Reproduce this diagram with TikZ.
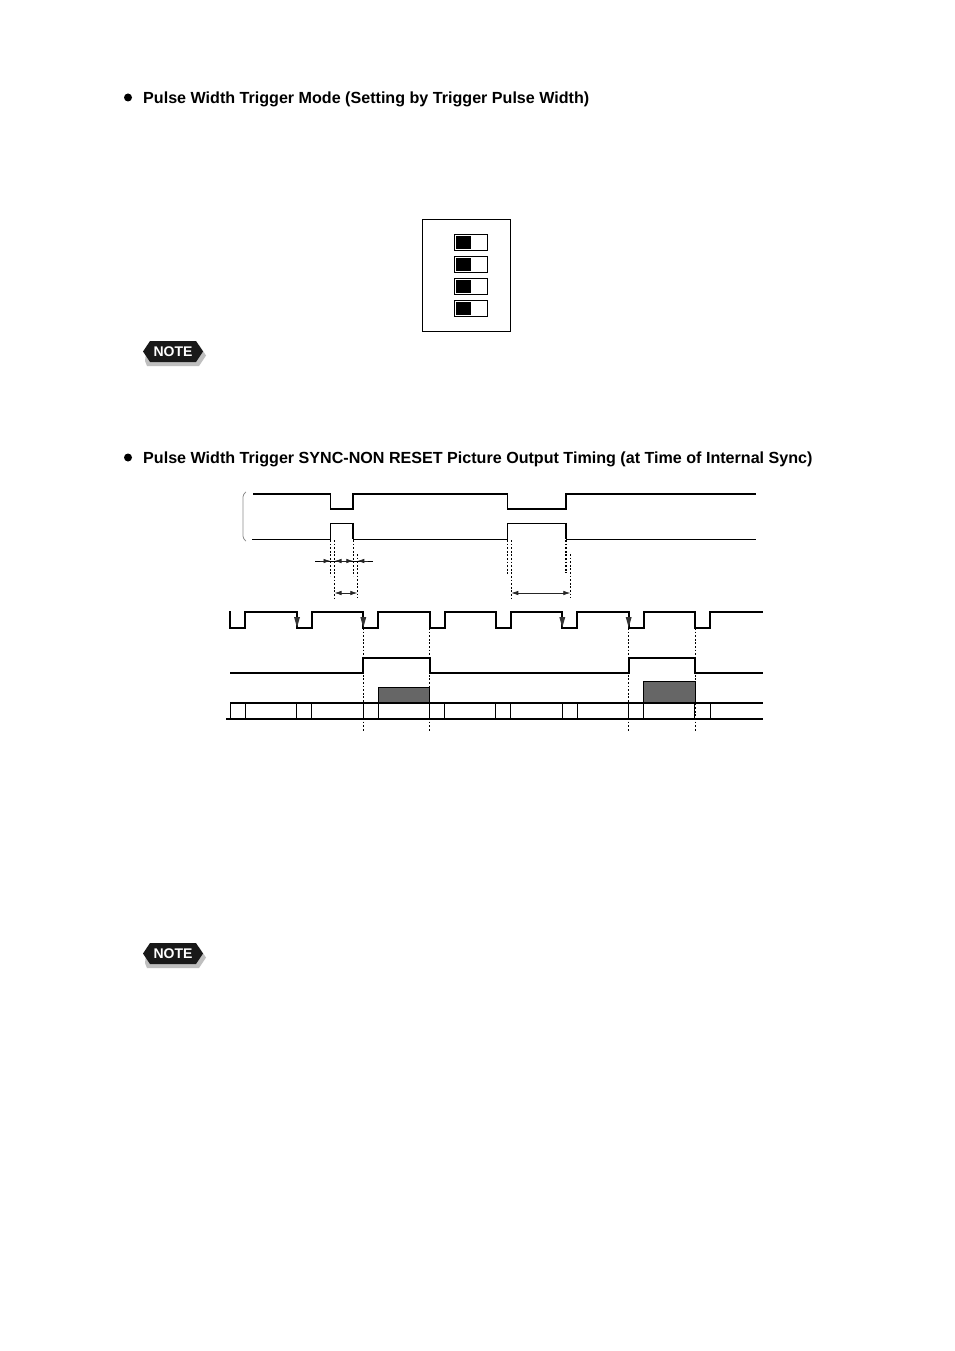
\documentclass[tikz,border=0pt]{standalone}
\usepackage{fontspec}
\setmainfont{Liberation Sans}
\usetikzlibrary{arrows.meta}
\definecolor{boxgray}{gray}{0.40}
\begin{document}
\begin{tikzpicture}[x=1pt,y=-1pt,line join=miter,
    thicksig/.style={line width=2pt},
    thinsig/.style={line width=1.2pt},
    tick/.style={line width=1pt},
    guide/.style={line width=1.1pt,dash pattern=on 1.8pt off 1.8pt},
    dim/.style={line width=0.7pt,{Latex[length=7pt,width=4.5pt]}-{Latex[length=7pt,width=4.5pt]},color=black!85},
    dimtip/.style={line width=0.7pt,-{Latex[length=7pt,width=4.5pt]},color=black!85},
    heading/.style={right,inner sep=0pt,font=\bfseries\fontsize{16.1}{18}\selectfont},
    falltip/.style={fill=black!80}]
\useasboundingbox (0,0) rectangle (954,1351);
\fill[white] (0,0) rectangle (954,1351);
% headings
\fill (128,97.5) circle (4);
\node[heading] (modetitle) at (143,99) {Pulse Width Trigger Mode (Setting by Trigger Pulse Width)};
\fill (128,457.5) circle (4);
\node[heading] (timingtitle) at (143,459) {Pulse Width Trigger SYNC-NON RESET Picture Output Timing (at Time of Internal Sync)};
% dip switch
\draw[line width=1pt] (422.3,219.3) rectangle (510.7,331.7);
\foreach \y in {234.3,256.3,278.3,300.3} {
  \draw[line width=1pt] (454.3,\y) rectangle (487.7,\y+16.4);
  \fill (456,\y+1.6) rectangle (471,\y+14.8);
}
% note marks
\foreach \y in {0,602} {
\begin{scope}[shift={(0,\y)}]
\fill[black!25] (147,345) -- (199,345) -- (206,355.5) -- (199,366) -- (147,366) -- (145,361) -- cycle;
\fill[black!90] (150,341) -- (196,341) -- (203,351.5) -- (196,362) -- (150,362) -- (143,351.5) -- cycle;
\node[white,inner sep=0pt,font=\bfseries\fontsize{14}{16}\selectfont] (note\y) at (173,351.5) {NOTE};
\end{scope}
}
% trigger signals
\draw[line width=0.8pt,black!45,rounded corners=3pt] (246,492) -- (243,494) -- (243,539) -- (246,541);
\draw[thicksig] (253,494) -- (330.5,494);
\draw[line width=1.3pt] (330.5,494) -- (330.5,509) -- (353,509);
\draw[thicksig] (353,509.5) -- (353,494) -- (507.5,494);
\draw[line width=1.3pt] (507.5,494) -- (507.5,509) -- (566,509);
\draw[thicksig] (566,509.5) -- (566,494) -- (756,494);
\draw[thinsig] (252,539.3) -- (330.5,539.3) -- (330.5,523.3) -- (353,523.3);
\draw[thicksig] (353,522.8) -- (353,539.3);
\draw[thinsig] (353,539.3) -- (507.5,539.3) -- (507.5,523.3) -- (566,523.3);
\draw[thicksig] (566,522.8) -- (566,539.3);
\draw[thinsig] (566,539.3) -- (756,539.3);
% width guides
\draw[guide] (330.5,540) -- (330.5,576);
\draw[guide] (334.5,540) -- (334.5,598);
\draw[guide] (353.3,540) -- (353.3,576);
\draw[guide] (357.3,554) -- (357.3,598);
\draw[guide] (507.3,540) -- (507.3,574);
\draw[guide] (511.3,540) -- (511.3,598);
\draw[guide] (566,540) -- (566,573);
\draw[guide] (570.3,554) -- (570.3,598);
\draw[line width=0.7pt] (315,561) -- (372.7,561);
\draw[dimtip] (320,561) -- (330.5,561);
\draw[dimtip] (345,561) -- (334.5,561);
\draw[dimtip] (343,561) -- (353.3,561);
\draw[dimtip] (368,561) -- (357.3,561);
\draw[dim] (334.5,593) -- (357.3,593);
\draw[dim] (511.3,593) -- (570.3,593);
% sync pulses
\draw[thicksig] (230.3,611) -- (230.3,627.7) -- (245.3,627.7) -- (245.3,611.7)
  -- (297,611.7) -- (297,627.7) -- (312,627.7) -- (312,611.7)
  -- (363.3,611.7) -- (363.3,627.7) -- (378,627.7) -- (378,611.7)
  -- (429.7,611.7) -- (429.7,627.7) -- (444.7,627.7) -- (444.7,611.7)
  -- (495.5,611.7) -- (495.5,627.7) -- (511,627.7) -- (511,611.7)
  -- (562.3,611.7) -- (562.3,627.7) -- (577.3,627.7) -- (577.3,611.7)
  -- (628.7,611.7) -- (628.7,627.7) -- (643.7,627.7) -- (643.7,611.7)
  -- (695,611.7) -- (695,627.7) -- (710,627.7) -- (710,611.7) -- (763,611.7);
\foreach \x in {297,363.3,562.3,628.7} {
  \fill[falltip] (\x-3,617) -- (\x+3,617) -- (\x,627.5) -- cycle;
}
% output signal
\draw[thicksig] (230,672.7) -- (363.3,672.7) -- (363.3,658) -- (429.7,658) -- (429.7,672.7)
  -- (628.7,672.7) -- (628.7,658) -- (695,658) -- (695,672.7) -- (763,672.7);
% picture output
\fill[boxgray] (378.5,687) rectangle (429.7,703);
\fill[boxgray] (643.7,681.3) rectangle (695,703);
\draw[tick] (378.5,703) -- (378.5,687) -- (429.7,687) -- (429.7,703);
\draw[tick] (643.7,703) -- (643.7,681.3) -- (695,681.3) -- (695,703);
\draw[thicksig] (230,703) -- (763,703);
\draw[thicksig] (226,719) -- (763,719);
\foreach \x in {230.5,245.5,296.7,311.7,363.3,378.3,429.7,444.7,495.5,510.5,562.3,577.3,628.3,643.3,694.5,710} {
  \draw[tick] (\x,703) -- (\x,719);
}
\foreach \x in {363.3,429.7,628.7,695.5} {
  \draw[guide] (\x,628) -- (\x,731);
}
\end{tikzpicture}
\end{document}
